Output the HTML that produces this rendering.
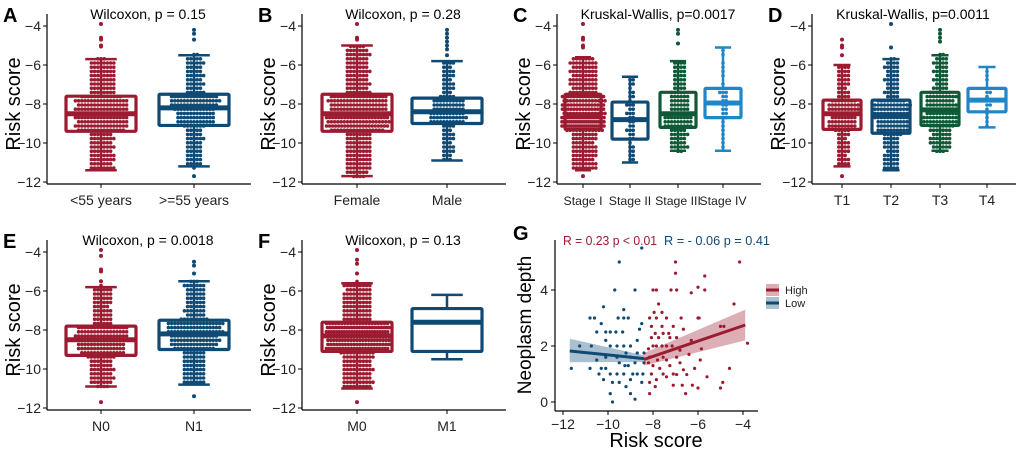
<!DOCTYPE html>
<html><head><meta charset="utf-8"><style>
html,body{margin:0;padding:0;background:#fff}
svg{display:block;font-family:"Liberation Sans",Arial,sans-serif}
</style></head><body>
<svg id="fig" width="1020" height="451" viewBox="0 0 1020 451"></svg>
<script>
// ---------- Panel data ----------
const aCats=["<55 years",">=55 years"], aLo=[-11.4,-11.2], aQ1=[-9.4,-9.1], aMed=[-8.5,-8.2], aQ3=[-7.6,-7.5], aHi=[-5.7,-5.5], aN=[280,200];
const aOut=[[-3.9,-4.6,-4.7,-5.0,-5.05],[-4.2,-4.4,-4.7,-11.7]];
const bCats=["Female","Male"], bLo=[-11.7,-10.9], bQ1=[-9.4,-9.0], bMed=[-8.5,-8.4], bQ3=[-7.5,-7.7], bHi=[-5.0,-5.8], bN=[340,130];
const bOut=[[-3.9,-4.6,-4.7],[-4.2,-4.4,-4.6,-4.8,-5.0,-5.2,-5.5]];
const cCats=["Stage I","Stage II","Stage III","Stage IV"], cLo=[-11.4,-11.0,-10.4,-10.4], cQ1=[-9.3,-9.8,-9.2,-8.7], cMed=[-8.6,-8.8,-8.5,-7.95], cQ3=[-7.5,-7.9,-7.4,-7.2], cHi=[-5.6,-6.6,-5.8,-5.1], cN=[300,40,120,30];
const cOut=[[-3.9,-4.6,-4.7,-5.0,-5.1,-11.7],[],[-4.2,-4.4,-4.9],[]];
const dCats=["T1","T2","T3","T4"], dLo=[-11.2,-11.4,-10.4,-9.2], dQ1=[-9.3,-9.5,-9.1,-8.4], dMed=[-8.5,-8.6,-8.3,-7.8], dQ3=[-7.8,-7.8,-7.4,-7.2], dHi=[-6.0,-5.7,-5.5,-6.1], dN=[130,170,160,15];
const dOut=[[-4.7,-5.0,-5.1,-5.5,-11.7],[-3.9,-5.1],[-4.2,-4.4,-4.6,-4.8],[]];
const eCats=["N0","N1"], eLo=[-10.9,-10.8], eQ1=[-9.3,-9.0], eMed=[-8.5,-8.2], eQ3=[-7.8,-7.5], eHi=[-5.8,-5.5], eN=[220,230];
const eOut=[[-3.9,-4.2,-4.9,-5.0,-5.5,-11.7],[-4.5,-4.7,-5.1,-11.4]];
const fCats=["M0","M1"], fLo=[-11.0,-9.5], fQ1=[-9.1,-9.1], fMed=[-8.3,-7.6], fQ3=[-7.6,-6.9], fHi=[-5.6,-6.2], fN=[330,0];
const fOut=[[-3.9,-4.4,-4.6,-5.1,-11.7],[]];
const yTicks=[-4,-6,-8,-10,-12];
// Panel G scatter
const lowX=[-11.63,-11.26,-10.8,-10.6,-10.8,-10.74,-10.5,-10.3,-10.2,-10.1,-10.1,-9.9,-10.1,-10.4,-10.3,-9.9,-9.8,-9.7,-9.5,-9.3,-9.55,-9.3,-9.1,-8.8,-8.8,-9.0,-8.5,-9.2,-9.6,-9.5,-9.3,-9.8,-9.0,-8.5,-8.7,-8.6,-8.8,-8.5,-9.9,-9.6,-9.3,-9.0,-9.9,-10.2,-9.2,-8.9,-8.7,-8.45,-8.4,-8.4,-10.5,-9.65,-9.35,-9.0,-9.25,-10.1,-9.1,-9.5,-8.7,-9.6];
const lowY=[1.2,2.0,3.0,3.0,1.2,2.0,2.5,2.8,3.4,2.2,2.5,2.5,1.6,1.0,1.2,0.3,0,4,5,3.3,3,3,3,4,0.1,0.3,5.5,1.75,2,1.4,1.0,0.7,0.8,2.8,2.2,2.6,1.4,0.7,1.0,1.0,2,2,2,0.8,0.55,1.0,1.0,1.0,1.4,1.75,1.5,2.5,2.5,1.6,1.3,1.2,1.3,0.7,1.75,1.6];
const highX=[-7.0,-7.0,-5.7,-4.15,-8.0,-7.85,-7.2,-6.95,-6.3,-6.0,-5.7,-4.4,-7.75,-7.95,-7.6,-8.15,-7.85,-7.4,-6.75,-6.0,-5.95,-8.07,-7.6,-7.1,-6.65,-5.0,-4.85,-7.9,-7.55,-7.25,-8.0,-7.4,-6.3,-5.85,-3.8,-8.15,-7.55,-6.8,-6.4,-5.9,-4.6,-7.7,-7.25,-8.07,-6.95,-6.5,-5.6,-8.15,-7.1,-6.7,-6.25,-4.9,-5.0,-8.15,-6.55,-6.0,-7.85,-7.4,-7.85,-7.6,-7.15,-8.2,-7.8,-7.4,-6.95,-8.0,-8.2,-7.55,-7.1,-6.8,-6.65,-6.15,-7.9,-7.3,-6.95,-7.75,-8.07];
const highY=[5,4.6,4.5,5,4,4,4,4,3.9,4.1,4,3.5,3.5,3.2,3.2,3,3,3,3,3,3,2.7,2.7,2.7,2.6,2.7,2.7,2.45,2.45,2.3,2,2,2.2,1.9,2.1,1.6,1.6,1.4,1.7,1.5,1.2,1.2,1.3,1.0,0.98,0.98,0.9,0.7,0.6,0.6,0.6,0.7,0.5,0.3,0.3,0.5,0.8,0.9,2,2,2,1.4,1.5,1.5,1.6,1.3,1.9,1.0,1.0,1.85,1.15,1.2,0.55,2.45,2.3,2.3,2.3];
const lowFitX=[-11.7,-8.4], lowFitY=[1.82,1.55], lowBandLo=[1.42,1.43], lowBandHi=[2.26,1.67];
const highFitX=[-8.4,-3.9], highFitY=[1.52,2.75], highBandLo=[1.3,2.2], highBandHi=[1.75,3.3];
const gxTicks=[-12,-10,-8,-6,-4], gyTicks=[0,2,4];

// ---------- drawing ----------
const NS="http://www.w3.org/2000/svg", svg=document.getElementById("fig");
function mk(tag,attrs,parent){const e=document.createElementNS(NS,tag);for(const k in attrs)e.setAttribute(k,attrs[k]);(parent||svg).appendChild(e);return e;}
function txt(s,attrs,parent){const e=mk("text",attrs,parent);e.textContent=s;return e;}
const COLS2=["#9b1b30","#0f4a75"], COLS4=["#9b1b30","#0f4a75","#0e5a36","#1f86c8"];

function boxPanel(name,letter,title,ox,oy,cats,lo,q1,med,q3,hi,n,outs,centers,hw,cols,labSize,maxHalf){
  const g=mk("g",{});
  
  
  const Y=v=>oy+26+(-4-v)*19.5;
  const L=txt(letter,{x:ox+3,y:oy+22,"font-size":20,"font-weight":"bold"},g);
  
  
  const T=txt(title,{x:ox+148,y:oy+19,"font-size":14,"text-anchor":"middle"},g);
  
  
  const yl=txt("Risk score",{x:0,y:0,"font-size":20,"text-anchor":"middle",transform:`translate(${ox+20},${oy+104}) rotate(-90)`},g);
  
  
  const ax=ox+47;
  mk("line",{x1:ax,y1:oy+14,x2:ax,y2:oy+184,stroke:"#000","stroke-width":1.2},g);
  mk("line",{x1:ax,y1:oy+184,x2:ox+251,y2:oy+184,stroke:"#000","stroke-width":1.2},g);
  yTicks.forEach(t=>{
    mk("line",{x1:ax-4,y1:Y(t),x2:ax,y2:Y(t),stroke:"#000"},g);
    const tl=txt("\u2212"+(-t),{x:ax-6,y:Y(t)+5,"font-size":14,"text-anchor":"end",fill:"#222"},g);
    
    
  });
  cats.forEach((c,i)=>{
    const cx=ox+centers[i], col=cols[i];
    mk("line",{x1:cx,y1:oy+184,x2:cx,y2:oy+188,stroke:"#000"},g);
    const xl=txt(c,{x:cx,y:oy+205,"font-size":labSize,"text-anchor":"middle",fill:"#222"},g);
    
    
    const N=n[i], kn=[0,0.25,0.5,0.75,1], kv=[lo[i],q1[i],med[i],q3[i],hi[i]];
    const pts=[], total={};
    for(let j=0;j<N;j++){
      const p=(j+0.5)/N;let s=0;while(s<3&&p>kn[s+1])s++;
      const v=kv[s]+(kv[s+1]-kv[s])*(p-kn[s])/(kn[s+1]-kn[s]);
      const r=Math.round(Y(v)/4.2);
      pts.push(r);total[r]=(total[r]||0)+1;
    }
    const rows={};
    pts.forEach(r=>{
      rows[r]=(rows[r]||0)+1;const k=rows[r]-1;
      const sp=Math.min(3.2,2*maxHalf/Math.max(1,total[r]));
      const off=(k===0?0:(k%2?1:-1)*Math.ceil(k/2))*sp;
      const d=mk("circle",{cx:cx+off,cy:r*4.2,r:1.8,fill:col},g);
      
      
    });
    outs[i].forEach(v=>{
      const d=mk("circle",{cx:cx,cy:Y(v),r:2,fill:col},g);
      
      
    });
    const cap=hw*0.45;
    mk("line",{x1:cx,y1:Y(hi[i]),x2:cx,y2:Y(q3[i]),stroke:col,"stroke-width":2.5},g);
    mk("line",{x1:cx,y1:Y(q1[i]),x2:cx,y2:Y(lo[i]),stroke:col,"stroke-width":2.5},g);
    mk("line",{x1:cx-cap,y1:Y(hi[i]),x2:cx+cap,y2:Y(hi[i]),stroke:col,"stroke-width":2.5},g);
    mk("line",{x1:cx-cap,y1:Y(lo[i]),x2:cx+cap,y2:Y(lo[i]),stroke:col,"stroke-width":2.5},g);
    const b=mk("rect",{x:cx-hw,y:Y(q3[i]),width:2*hw,height:Y(q1[i])-Y(q3[i]),fill:"none",stroke:col,"stroke-width":3.2,rx:1},g);
    
    
    mk("line",{x1:cx-hw,y1:Y(med[i]),x2:cx+hw,y2:Y(med[i]),stroke:col,"stroke-width":5},g);
  });
}
boxPanel("panel-a-age","A","Wilcoxon, p = 0.15",0,0,aCats,aLo,aQ1,aMed,aQ3,aHi,aN,aOut,[101,194],35,COLS2,14,32);
boxPanel("panel-b-gender","B","Wilcoxon, p = 0.28",255,0,bCats,bLo,bQ1,bMed,bQ3,bHi,bN,bOut,[102,192],35,COLS2,14,32);
boxPanel("panel-c-stage","C","Kruskal-Wallis, p=0.0017",510,0,cCats,cLo,cQ1,cMed,cQ3,cHi,cN,cOut,[73,120,168,213],18,COLS4,12.3,22);
boxPanel("panel-d-t","D","Kruskal-Wallis, p=0.0011",765,0,dCats,dLo,dQ1,dMed,dQ3,dHi,dN,dOut,[77,126,175,222],19,COLS4,14,21);
boxPanel("panel-e-n","E","Wilcoxon, p = 0.0018",0,226,eCats,eLo,eQ1,eMed,eQ3,eHi,eN,eOut,[101,194],35,COLS2,14,32);
boxPanel("panel-f-m","F","Wilcoxon, p = 0.13",255,226,fCats,fLo,fQ1,fMed,fQ3,fHi,fN,fOut,[102,192],35,COLS2,14,32);

// Panel G
(function(){
  const g=mk("g",{});
  
  
  const X=v=>563+(v+12)*22.5, Y=v=>402-v*28;
  const L=txt("G",{x:513,y:240,"font-size":20,"font-weight":"bold"},g);
  
  
  const s1=txt("R = 0.23  p < 0.01",{x:563,y:245,"font-size":13,fill:"#9b1b30",textLength:94,lengthAdjust:"spacingAndGlyphs"},g);
  
  
  const s2=txt("R = - 0.06   p = 0.41",{x:664,y:245,"font-size":13,fill:"#0f4a75",textLength:106,lengthAdjust:"spacingAndGlyphs"},g);
  
  
  mk("line",{x1:555,y1:240,x2:555,y2:411,stroke:"#000","stroke-width":1.2},g);
  mk("line",{x1:555,y1:411,x2:758,y2:411,stroke:"#000","stroke-width":1.2},g);
  gyTicks.forEach(t=>{
    mk("line",{x1:551,y1:Y(t),x2:555,y2:Y(t),stroke:"#000"},g);
    const tl=txt(String(t),{x:548,y:Y(t)+5,"font-size":14,"text-anchor":"end",fill:"#222"},g);
    
    
  });
  gxTicks.forEach(t=>{
    mk("line",{x1:X(t),y1:411,x2:X(t),y2:415,stroke:"#000"},g);
    const tl=txt("\u2212"+(-t),{x:X(t),y:429,"font-size":14,"text-anchor":"middle",fill:"#222"},g);
    
    
  });
  const xt=txt("Risk score",{x:656,y:447,"font-size":20,"text-anchor":"middle"},g);
  
  
  const yt=txt("Neoplasm depth",{x:0,y:0,"font-size":19,"text-anchor":"middle",transform:"translate(531,325) rotate(-90)"},g);
  
  
  lowX.forEach((v,i)=>{const c=mk("circle",{cx:X(v),cy:Y(lowY[i]),r:1.6,fill:"#0f4a75"},g);
    
    });
  highX.forEach((v,i)=>{const c=mk("circle",{cx:X(v),cy:Y(highY[i]),r:1.6,fill:"#9b1b30"},g);
    
    });
  function fit(fx,fy,blo,bhi,col,nm){
    const band=mk("polygon",{points:`${X(fx[0])},${Y(bhi[0])} ${X(fx[1])},${Y(bhi[1])} ${X(fx[1])},${Y(blo[1])} ${X(fx[0])},${Y(blo[0])}`,fill:col,"fill-opacity":0.35},g);
    
    
    const ln=mk("line",{x1:X(fx[0]),y1:Y(fy[0]),x2:X(fx[1]),y2:Y(fy[1]),stroke:col,"stroke-width":3},g);
    
    
  }
  fit(lowFitX,lowFitY,lowBandLo,lowBandHi,"#0f4a75","low");
  fit(highFitX,highFitY,highBandLo,highBandHi,"#9b1b30","high");
  [["High","#9b1b30",290],["Low","#0f4a75",303]].forEach(([lab,col,yy])=>{
    const k=mk("rect",{x:766,y:yy-6,width:13,height:12,fill:col,"fill-opacity":0.35},g);
    
    
    mk("line",{x1:766,y1:yy,x2:779,y2:yy,stroke:col,"stroke-width":3},g);
    const t=txt(lab,{x:785,y:yy+4,"font-size":11,fill:"#222"},g);
    
    
  });
})();
</script>
</body></html>
